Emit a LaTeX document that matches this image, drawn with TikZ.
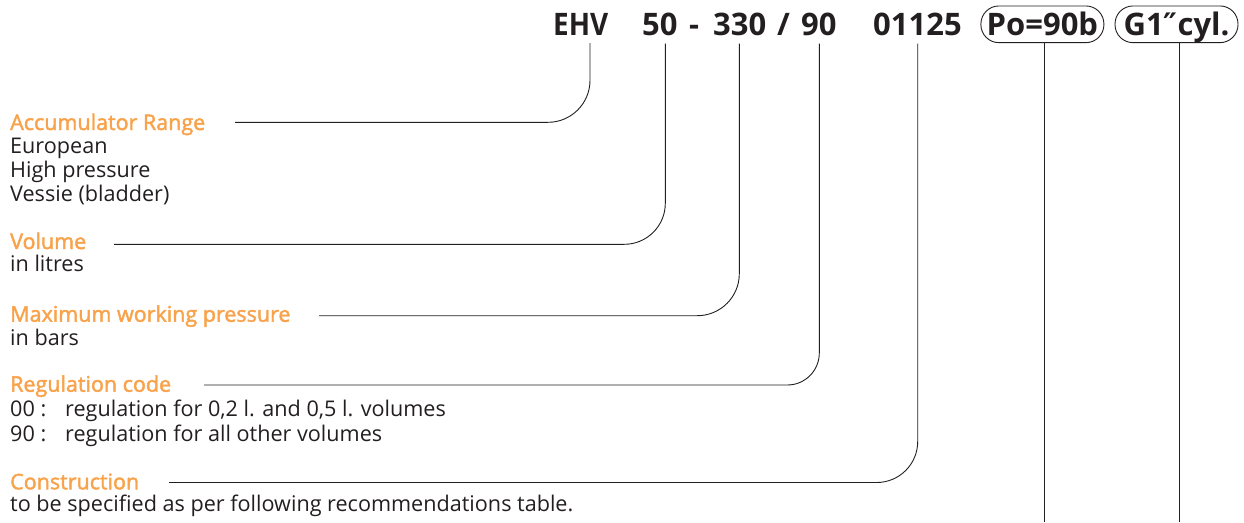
\documentclass[tikz,border=0pt]{standalone}
\usepackage{fontspec}
\setmainfont{Open Sans}
\newfontfamily\headfont{Open Sans}[FakeBold=2]
\newfontfamily\primefont{DejaVu Sans}
\definecolor{accorange}{RGB}{248,163,76}
\definecolor{ink}{RGB}{35,31,32}
\begin{document}
\begin{tikzpicture}[x=1pt,y=-1pt,
  conn/.style={draw=ink,line width=0.9pt},
  code/.style={font=\fontsize{31}{31}\selectfont\bfseries, text=ink,
    inner xsep=0pt, inner ysep=8pt, anchor=base west},
  pill/.style={draw=ink, line width=0.9pt, rounded corners=18pt,
    minimum width=123pt, minimum height=36.7pt, inner sep=0pt,
    text height=22pt, text depth=0pt,
    font=\fontsize{31}{31}\selectfont\bfseries, text=ink},
  head/.style={font=\fontsize{21.5}{21.5}\headfont, text=accorange,
    inner sep=0pt, anchor=base west},
  desc/.style={font=\fontsize{21.6}{21.6}\selectfont, text=ink,
    inner sep=0pt, anchor=base west}]
\useasboundingbox (0,0) rectangle (1244,522);

% ---- code line ----
\node[code] (ehv)   at (553,35) {\scalebox{0.9}[1]{EHV}};
\node[code] (vol)   at (642,35) {50};
\node[code] (dash)  at (689,35) {-};
\node[code] (pres)  at (713,35) {330};
\node[code] (slash) at (777,35) {/};
\node[code] (reg)   at (801,35) {90};
\node[code] (cons)  at (873,35) {01125};
\node[pill] (po) at (1042.4,24.3) {Po=90b};
\node[pill] (g1) at (1176.5,24.3) {G1{\primefont\bfseries ″}cyl.};

% ---- labels ----
\node[head] (accH) at (10,130)   {Accumulator Range};
\node[desc] (acc1) at (10,153.3) {European};
\node[desc] (acc2) at (10,177.7) {High pressure};
\node[desc] (acc3) at (10,201.7) {Vessie (bladder)};

\node[head] (volH) at (10,249)   {Volume};
\node[desc] (vol1) at (10,271.7) {in litres};

\node[head] (presH) at (10,321.7) {Maximum working pressure};
\node[desc] (pres1) at (10,345)   {in bars};

\node[head] (regH) at (10,391.7) {Regulation code};
\node[desc] (reg1) at (10,416.7) {\makebox[55pt][l]{00 :}regulation for 0,2 l. and 0,5 l. volumes};
\node[desc] (reg2) at (10,441.7) {\makebox[55pt][l]{90 :}regulation for all other volumes};

\node[head] (consH) at (10,489.3) {Construction};
\node[desc] (cons1) at (10,511.7) {to be specified as per following recommendations table.};

% ---- tap points and line ends ----
\coordinate (ehvTap)  at (590,0);
\coordinate (volTap)  at (665.3,0);
\coordinate (presTap) at (739.3,0);
\coordinate (regTap)  at (819.3,0);
\coordinate (consTap) at (917.7,0);
\coordinate (accEnd)  at (235,122.3);
\coordinate (volEnd)  at (114,244.3);
\coordinate (presEnd) at (319,315.7);
\coordinate (regEnd)  at (204,385);
\coordinate (consEnd) at (169,482.5);
\coordinate (poEnd)   at (1044.3,522);
\coordinate (g1End)   at (1179,522);

% ---- connectors ----
\draw[conn,rounded corners=42pt] (ehv.south -| ehvTap)   |- (accEnd);
\draw[conn,rounded corners=41pt] (vol.south -| volTap)   |- (volEnd);
\draw[conn,rounded corners=42pt] (pres.south -| presTap) |- (presEnd);
\draw[conn,rounded corners=32pt] (reg.south -| regTap)   |- (regEnd);
\draw[conn,rounded corners=41pt] (cons.south -| consTap) |- (consEnd);
\draw[conn] (po.south -| poEnd) -- (poEnd);
\draw[conn] (g1.south -| g1End) -- (g1End);
\end{tikzpicture}
\end{document}
